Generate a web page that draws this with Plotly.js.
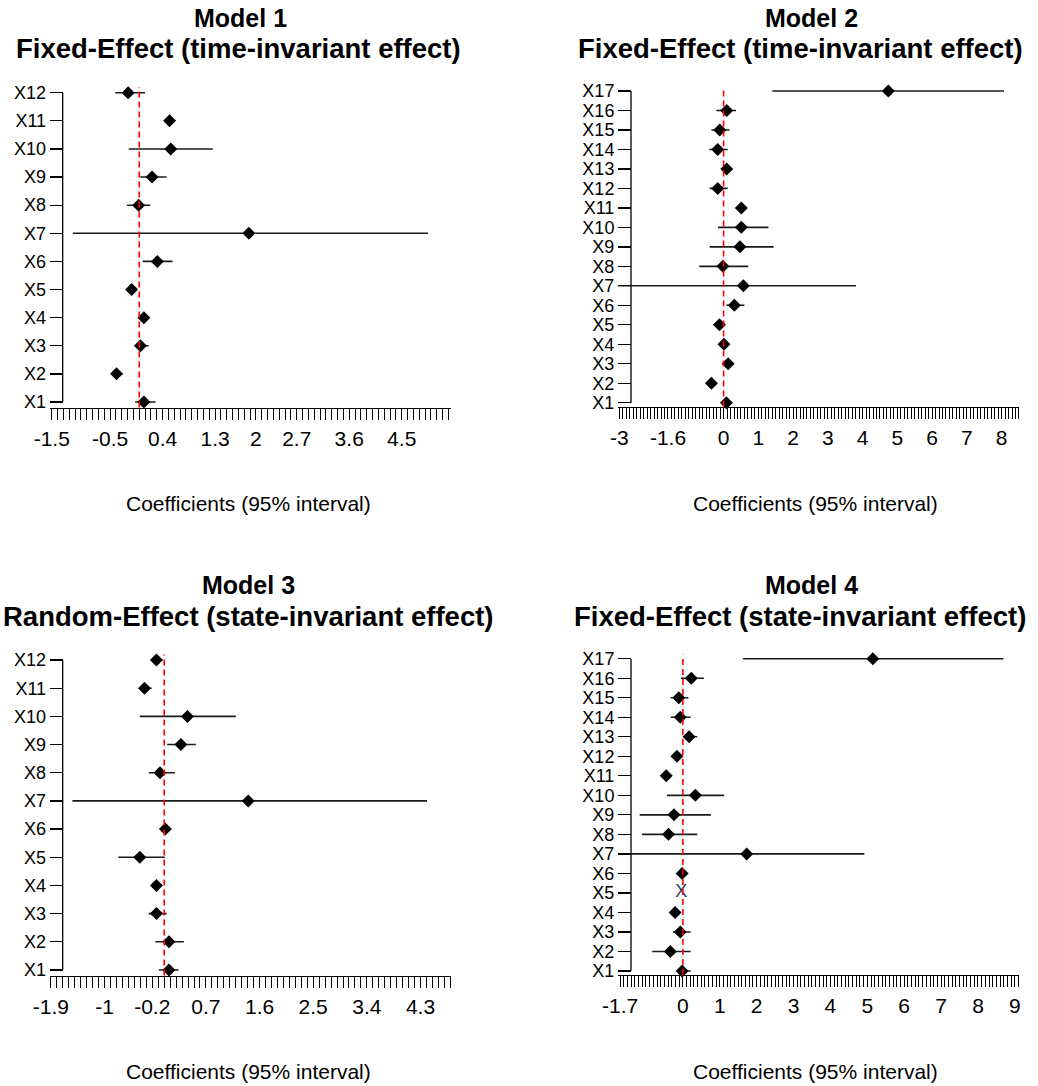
<!DOCTYPE html>
<html>
<head>
<meta charset="utf-8">
<script src="https://cdn.plot.ly/plotly-3.0.1.min.js"></script>
<style>html,body{margin:0;padding:0;background:#fff;}#chart{width:1038px;height:1086px;}</style>
</head>
<body>
<div id="chart"></div>
<script>
// ---------- DATA ----------
const m1Vars = ['X1','X2','X3','X4','X5','X6','X7','X8','X9','X10','X11','X12'];
const m1Est  = [0.08, -0.39, 0.02, 0.08, -0.13, 0.31, 1.88, -0.01, 0.22, 0.54, 0.52, -0.19];
const m1Lo   = [-0.07, -0.46, -0.06, 0.01, -0.21, 0.06, -1.14, -0.21, 0.02, -0.18, 0.45, -0.41];
const m1Hi   = [0.28, -0.28, 0.16, 0.17, -0.04, 0.57, 4.95, 0.19, 0.47, 1.26, 0.60, 0.10];
const m1Ticks = [-1.5, -0.5, 0.4, 1.3, 2, 2.7, 3.6, 4.5];

const m2Vars = ['X1','X2','X3','X4','X5','X6','X7','X8','X9','X10','X11','X12','X13','X14','X15','X16','X17'];
const m2Est  = [0.08, -0.35, 0.13, 0.01, -0.12, 0.31, 0.57, -0.02, 0.47, 0.51, 0.51, -0.17, 0.09, -0.17, -0.11, 0.09, 4.74];
const m2Lo   = [-0.07, -0.45, -0.02, -0.10, -0.23, 0.08, -3.30, -0.70, -0.40, -0.16, 0.41, -0.40, -0.07, -0.41, -0.35, -0.21, 1.40];
const m2Hi   = [0.25, -0.26, 0.29, 0.17, -0.02, 0.60, 3.81, 0.71, 1.44, 1.29, 0.60, 0.12, 0.25, 0.12, 0.17, 0.36, 8.07];
const m2Ticks = [-3, -1.6, 0, 1, 2, 3, 4, 5, 6, 7, 8];

const m3Vars = ['X1','X2','X3','X4','X5','X6','X7','X8','X9','X10','X11','X12'];
const m3Est  = [0.08, 0.08, -0.13, -0.13, -0.41, 0.02, 1.41, -0.07, 0.28, 0.39, -0.33, -0.13];
const m3Lo   = [-0.09, -0.15, -0.26, -0.19, -0.77, -0.04, -1.54, -0.26, 0.05, -0.41, -0.39, -0.19];
const m3Hi   = [0.24, 0.33, 0.04, -0.04, 0.01, 0.08, 4.41, 0.18, 0.53, 1.20, -0.21, -0.03];
const m3Ticks = [-1.9, -1, -0.2, 0.7, 1.6, 2.5, 3.4, 4.3];

const m4Vars = ['X1','X2','X3','X4','X5','X6','X7','X8','X9','X10','X11','X12','X13','X14','X15','X16','X17'];
const m4Est  = [-0.02, -0.34, -0.07, -0.21, null, -0.02, 1.73, -0.39, -0.24, 0.34, -0.45, -0.16, 0.17, -0.07, -0.11, 0.23, 5.15];
const m4Lo   = [-0.15, -0.83, -0.27, -0.32, null, -0.11, -2.00, -1.11, -1.17, -0.43, -0.54, -0.27, 0.05, -0.33, -0.33, -0.05, 1.63];
const m4Hi   = [0.21, 0.21, 0.21, -0.09, null, 0.09, 4.92, 0.39, 0.76, 1.12, -0.34, -0.05, 0.39, 0.21, 0.15, 0.57, 8.69];
const m4Ticks = [-1.7, 0, 1, 2, 3, 4, 5, 6, 7, 8, 9];
const m4MissingVar = ['X5'];
const m4MissingX = [-0.04];

const titles1 = ['Model 1', 'Model 2', 'Model 3', 'Model 4'];
const titles2 = ['Fixed-Effect (time-invariant effect)', 'Fixed-Effect (time-invariant effect)',
                 'Random-Effect (state-invariant effect)', 'Fixed-Effect (state-invariant effect)'];
const xTitle = 'Coefficients (95% interval)';

// ---------- LAYOUT GEOMETRY (pixels) ----------
const W = 1038, H = 1086;
const FONT = 'Arial, "Liberation Sans", sans-serif';
const px = v => v / W;
const py = v => 1 - v / H;

const panels = [
  {vars: m1Vars, est: m1Est, lo: m1Lo, hi: m1Hi, ticks: m1Ticks,
   xd: [50, 450.7], xr: [-1.53, 5.34], yd: [407.6, 87.1], yAxisX: 62.7,
   t1: [240, 18], t2: [238, 48], at: [248, 504]},
  {vars: m2Vars, est: m2Est, lo: m2Lo, hi: m2Hi, ticks: m2Ticks,
   xd: [618.3, 1019.3], xr: [-3.03, 8.51], yd: [406.6, 87.1], yAxisX: 631,
   t1: [811, 18], t2: [800, 48], at: [815, 504]},
  {vars: m3Vars, est: m3Est, lo: m3Lo, hi: m3Hi, ticks: m3Ticks,
   xd: [50, 450.7], xr: [-1.916, 4.807], yd: [975.6, 654.4], yAxisX: 62.7,
   t1: [248, 585], t2: [248, 616], at: [248, 1071]},
  {vars: m4Vars, est: m4Est, lo: m4Lo, hi: m4Hi, ticks: m4Ticks,
   xd: [618.3, 1019.3], xr: [-1.75, 9.12], yd: [974.9, 654.8], yAxisX: 631,
   t1: [811, 585], t2: [800, 616], at: [815, 1071]}
];

const data = [];
const layout = {
  width: W, height: H,
  margin: {l: 0, r: 0, t: 0, b: 0},
  paper_bgcolor: '#fff', plot_bgcolor: '#fff',
  showlegend: false,
  font: {family: FONT, color: '#000'},
  shapes: [], annotations: []
};

panels.forEach((p, k) => {
  const n = k + 1;
  const xa = n === 1 ? 'x' : 'x' + n;
  const ya = n === 1 ? 'y' : 'y' + n;
  const idx = p.vars.map((v, i) => i);

  // CI segments
  const cx = [], cy = [];
  p.vars.forEach((v, i) => {
    if (p.lo[i] === null || p.hi[i] === null) return;
    cx.push(p.lo[i], p.hi[i], null);
    cy.push(i, i, null);
  });
  data.push({type: 'scatter', mode: 'lines', x: cx, y: cy, xaxis: xa, yaxis: ya,
    line: {color: '#1a1a1a', width: 1.6}, hoverinfo: 'skip', connectgaps: false});
  data.push({type: 'scatter', mode: 'markers', x: p.est, y: idx, xaxis: xa, yaxis: ya,
    marker: {symbol: 'diamond', size: 10, color: '#000'}, cliponaxis: false, hoverinfo: 'skip'});

  layout['xaxis' + (n === 1 ? '' : n)] = {
    domain: [px(p.xd[0]), px(p.xd[1])], range: p.xr, anchor: ya,
    showline: true, linecolor: '#000', linewidth: 1.3, mirror: false,
    showgrid: false, zeroline: false,
    tickmode: 'array', tickvals: p.ticks, ticktext: p.ticks.map(String),
    ticks: 'outside', ticklen: 11, tickwidth: 1, tickcolor: '#000',
    ticklabelstandoff: 1,
    tickfont: {size: 21, family: FONT, color: '#000'},
    minor: {tickmode: 'linear', tick0: 0, dtick: 0.1, ticks: 'outside', ticklen: 11,
            tickwidth: 1, tickcolor: '#000', showgrid: false},
    fixedrange: true, automargin: false
  };
  layout['yaxis' + (n === 1 ? '' : n)] = {
    domain: [py(p.yd[0]), py(p.yd[1])], range: [-0.2, p.vars.length - 1 + 0.2],
    anchor: 'free', position: px(p.yAxisX),
    showline: false, showgrid: false, zeroline: false,
    tickmode: 'array', tickvals: idx, ticktext: p.vars,
    ticks: 'outside', ticklen: 13, tickwidth: 1.3, tickcolor: '#000',
    tickfont: {size: 18, family: FONT, color: '#000'},
    fixedrange: true, automargin: false
  };

  // y axis line from first to last category
  layout.shapes.push({type: 'line', xref: 'paper', yref: ya,
    x0: px(p.yAxisX), x1: px(p.yAxisX), y0: 0, y1: p.vars.length - 1,
    line: {color: '#000', width: 1.3}});
  // red dashed zero reference line
  layout.shapes.push({type: 'line', xref: xa, yref: ya + ' domain',
    x0: 0, x1: 0, y0: 0, y1: 1, line: {color: '#ff0000', width: 1.6, dash: '6px,4px'}});

  layout.annotations.push({xref: 'paper', yref: 'paper', x: px(p.t1[0]), y: py(p.t1[1]),
    xanchor: 'center', yanchor: 'middle', showarrow: false,
    text: '<b>' + titles1[k] + '</b>', font: {size: 25, family: FONT, color: '#000'}});
  layout.annotations.push({xref: 'paper', yref: 'paper', x: px(p.t2[0]), y: py(p.t2[1]),
    xanchor: 'center', yanchor: 'middle', showarrow: false,
    text: '<b>' + titles2[k] + '</b>', font: {size: 27.5, family: FONT, color: '#000'}});
  layout.annotations.push({xref: 'paper', yref: 'paper', x: px(p.at[0]), y: py(p.at[1]),
    xanchor: 'center', yanchor: 'middle', showarrow: false,
    text: xTitle, font: {size: 21, family: FONT, color: '#000'}});
});

// Model 4: X5 shown as a letter "X" (no estimate)
data.push({type: 'scatter', mode: 'text', x: m4MissingX,
  y: m4MissingVar.map(v => m4Vars.indexOf(v)), text: m4MissingVar.map(() => 'X'),
  textposition: 'middle center', textfont: {size: 18, family: FONT, color: '#2b3a6b'},
  xaxis: 'x4', yaxis: 'y4', cliponaxis: false, hoverinfo: 'skip'});

Plotly.newPlot('chart', data, layout, {displayModeBar: false, staticPlot: true});
</script>
</body>
</html>
